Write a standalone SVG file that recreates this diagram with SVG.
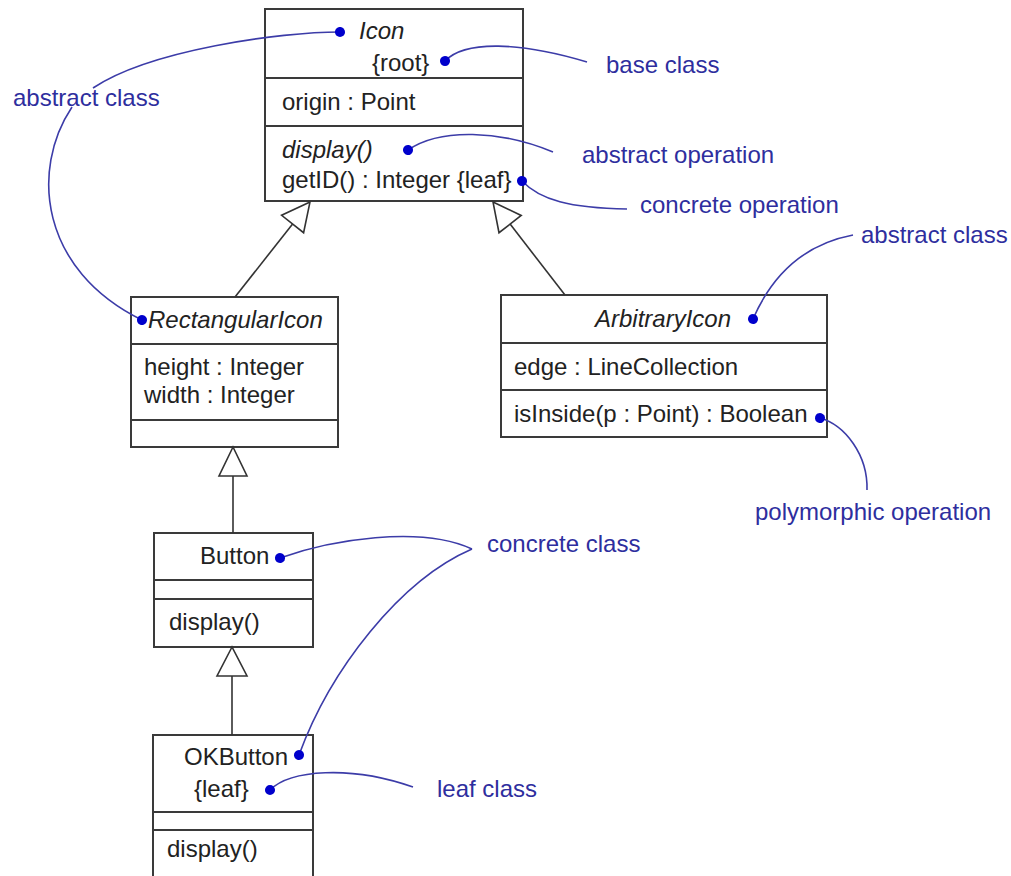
<svg xmlns="http://www.w3.org/2000/svg" width="1011" height="876" viewBox="0 0 1011 876">
<defs>
<style>
.box{fill:#fff;stroke:#3a3a3a;stroke-width:2}
.dv{stroke:#3a3a3a;stroke-width:2}
.t{font-family:"Liberation Sans",Arial,sans-serif;font-size:24px;fill:#222}
.i{font-style:italic}
.n{font-family:"Liberation Sans",Arial,sans-serif;font-size:24px;fill:#2e2e9e}
.lead{fill:none;stroke:#3c3ca8;stroke-width:1.6;marker-start:url(#dot)}
.gen{fill:none;stroke:#333;stroke-width:1.6}
.tri{fill:#fff;stroke:#333;stroke-width:1.6;stroke-linejoin:miter}
</style>
<marker id="dot" viewBox="0 0 12 12" refX="6" refY="6" markerWidth="11" markerHeight="11" markerUnits="userSpaceOnUse" orient="auto">
<circle cx="6" cy="6" r="5.5" fill="#0000cc"/>
</marker>
</defs>
<rect width="1011" height="876" fill="#fff"/>

<g id="Icon">
<rect class="box" x="265" y="9" width="258" height="192"/>
<line class="dv" x1="265" y1="78" x2="523" y2="78"/>
<line class="dv" x1="265" y1="126" x2="523" y2="126"/>
<text class="t i" x="359" y="39">Icon</text>
<text class="t" x="372" y="71">{root}</text>
<text class="t" x="282" y="110">origin : Point</text>
<text class="t i" x="282" y="158">display()</text>
<text class="t" x="282" y="188">getID() : Integer {leaf}</text>
</g>

<g id="RectangularIcon">
<rect class="box" x="131" y="297" width="207" height="150"/>
<line class="dv" x1="131" y1="344" x2="338" y2="344"/>
<line class="dv" x1="131" y1="420" x2="338" y2="420"/>
<text class="t i" x="148" y="328">RectangularIcon</text>
<text class="t" x="144" y="375">height : Integer</text>
<text class="t" x="144" y="403">width : Integer</text>
</g>

<g id="ArbitraryIcon">
<rect class="box" x="501" y="295" width="326" height="142"/>
<line class="dv" x1="501" y1="343" x2="827" y2="343"/>
<line class="dv" x1="501" y1="390" x2="827" y2="390"/>
<text class="t i" x="595" y="327">ArbitraryIcon</text>
<text class="t" x="514" y="375">edge : LineCollection</text>
<text class="t" x="514" y="422">isInside(p : Point) : Boolean</text>
</g>

<g id="Button">
<rect class="box" x="154" y="533" width="159" height="114"/>
<line class="dv" x1="154" y1="580" x2="313" y2="580"/>
<line class="dv" x1="154" y1="599" x2="313" y2="599"/>
<text class="t" x="200" y="564">Button</text>
<text class="t" x="169" y="630">display()</text>
</g>

<g id="OKButton">
<rect class="box" x="153" y="735" width="160" height="150"/>
<line class="dv" x1="153" y1="812" x2="313" y2="812"/>
<line class="dv" x1="153" y1="830" x2="313" y2="830"/>
<text class="t" x="184" y="765">OKButton</text>
<text class="t" x="194" y="797">{leaf}</text>
<text class="t" x="167" y="857">display()</text>
</g>

<g id="note-abstract-class-left"><text class="n" x="13" y="106">abstract class</text></g>
<g id="note-base-class"><text class="n" x="606" y="73">base class</text></g>
<g id="note-abstract-operation"><text class="n" x="582" y="163">abstract operation</text></g>
<g id="note-concrete-operation"><text class="n" x="640" y="213">concrete operation</text></g>
<g id="note-abstract-class-right"><text class="n" x="861" y="243">abstract class</text></g>
<g id="note-polymorphic-operation"><text class="n" x="755" y="520">polymorphic operation</text></g>
<g id="note-concrete-class"><text class="n" x="487" y="552">concrete class</text></g>
<g id="note-leaf-class"><text class="n" x="437" y="797">leaf class</text></g>

<g id="connectors">
<g id="generalizations">
<path class="gen" d="M235,297 L292.6,224"/>
<polygon class="tri" points="310,202 281.6,215.3 303.6,232.7"/>
<path class="gen" d="M565,295 L510.1,224.1"/>
<polygon class="tri" points="493,202 521.2,215.5 499,232.7"/>
<path class="gen" d="M233,533 L233,476"/>
<polygon class="tri" points="233,447 219,476 247,476"/>
<path class="gen" d="M232,735 L232,676"/>
<polygon class="tri" points="232,647 217,676 247,676"/>
</g>
<g id="leaders">
<path class="lead" d="M340,32 C280,32 150,50 93,88"/>
<path class="lead" d="M142,320 C40,270 30,170 72,107"/>
<path class="lead" d="M445,61 C465,40 520,42 587,62"/>
<path class="lead" d="M408,150 C440,128 500,130 553,152"/>
<path class="lead" d="M522,181 C540,200 570,208 627,209"/>
<path class="lead" d="M753,319 C770,280 800,245 853,235"/>
<path class="lead" d="M820,418 C845,425 868,455 867,490"/>
<path class="lead" d="M280,558 C330,540 420,525 472,549"/>
<path class="lead" d="M299,755 C330,670 400,580 472,549"/>
<path class="lead" d="M270,790 C290,770 350,765 413,787"/>
</g>
</g>
</svg>
